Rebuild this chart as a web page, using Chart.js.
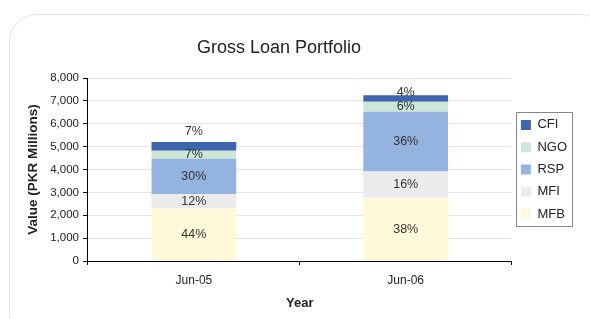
<!DOCTYPE html>
<html>
<head>
<meta charset="utf-8">
<script src="https://cdn.jsdelivr.net/npm/chart.js@4.4.0/dist/chart.umd.min.js"></script>
<style>
  html, body { margin: 0; padding: 0; background: #fff; }
  #wrap { position: relative; width: 590px; height: 319px; overflow: hidden; }
  #frame {
    position: absolute; left: 9px; top: 14px; width: 600px; height: 330px;
    border: 1px solid #e4e4e4; border-radius: 28px; box-sizing: border-box;
  }
  #title {
    position: absolute; left: 197px; top: 37px; line-height: 21px;
    font: 18px 'Liberation Sans', Arial, sans-serif; color: #222; white-space: nowrap;
  }
  canvas { position: absolute; left: 0; top: 0; }
</style>
</head>
<body>
<div id="wrap">
  <div id="frame"></div>
  <canvas id="chart" width="590" height="319"></canvas>
  <div id="title">Gross Loan Portfolio</div>
</div>
<script>
// values (PKR millions)
const years = ["Jun-05", "Jun-06"];
const mfb = [2300, 2760];
const mfi = [620, 1150];
const rsp = [1550, 2610];
const ngo = [350, 440];
const cfi = [380, 290];
const yTicks = [0, 1000, 2000, 3000, 4000, 5000, 6000, 7000, 8000];

const series = [
  { label: "MFB", data: mfb, color: "#fff9d9" },
  { label: "MFI", data: mfi, color: "#ebebed" },
  { label: "RSP", data: rsp, color: "#95b3df" },
  { label: "NGO", data: ngo, color: "#cde7d6" },
  { label: "CFI", data: cfi, color: "#3d65b0" }
];

const FONT = "'Liberation Sans', Arial, sans-serif";

// percent labels inside each segment
const pctLabels = {
  id: "pctLabels",
  afterDatasetsDraw(chart, args, opts) {
    const ctx = chart.ctx;
    const sets = chart.data.datasets;
    ctx.save();
    ctx.font = "12.5px " + FONT;
    ctx.fillStyle = "#333";
    ctx.textAlign = "center";
    ctx.textBaseline = "middle";
    sets.forEach((ds, i) => {
      chart.getDatasetMeta(i).data.forEach((bar, j) => {
        const total = sets.reduce((s, d) => s + d.data[j], 0);
        const pct = Math.round(ds.data[j] / total * 100);
        let y = (bar.y + bar.base) / 2;
        if (i === sets.length - 1) y += opts.topShift[j];
        ctx.fillText(pct + "%", bar.x, y);
      });
    });
    ctx.restore();
  }
};

// box around the legend
const legendBorder = {
  id: "legendBorder",
  afterDraw(chart) {
    const boxes = chart.legend.legendHitBoxes;
    if (!boxes || !boxes.length) return;
    const left = Math.min(...boxes.map(b => b.left)) - 5;
    const right = Math.max(...boxes.map(b => b.left + b.width)) + 5;
    const top = boxes[0].top - 6;
    const bottom = boxes[boxes.length - 1].top + boxes[boxes.length - 1].height + 6;
    const ctx = chart.ctx;
    ctx.save();
    ctx.strokeStyle = "#888";
    ctx.lineWidth = 1;
    ctx.strokeRect(Math.round(left) + 0.5, Math.round(top) + 0.5, Math.round(right - left), Math.round(bottom - top));
    ctx.restore();
  }
};

new Chart(document.getElementById("chart").getContext("2d"), {
  type: "bar",
  data: {
    labels: years,
    datasets: series.map(s => ({
      label: s.label,
      data: s.data,
      backgroundColor: s.color,
      borderWidth: 0,
      barPercentage: 0.4,
      categoryPercentage: 1
    }))
  },
  options: {
    responsive: false,
    animation: false,
    layout: { padding: { top: 78, left: 25, right: 13, bottom: 8 } },
    plugins: {
      title: { display: false },
      legend: {
        position: "right",
        fullSize: false,
        reverse: true,
        labels: {
          boxWidth: 10,
          boxHeight: 10,
          padding: 9.3,
          color: "#222",
          font: { family: FONT, size: 13 }
        }
      },
      tooltip: { enabled: false },
      pctLabels: { topShift: [-15, -6] }
    },
    scales: {
      x: {
        stacked: true,
        grid: { drawOnChartArea: false, drawTicks: true, tickLength: 4, color: "#000", offset: true },
        border: { color: "#000" },
        ticks: { color: "#222", padding: 8, font: { family: FONT, size: 12 } },
        title: {
          display: true, text: "Year", color: "#222",
          font: { family: FONT, size: 13, weight: "bold" },
          padding: { top: 0, bottom: 0 }
        }
      },
      y: {
        stacked: true,
        min: 0,
        max: 8000,
        afterBuildTicks: axis => { axis.ticks = yTicks.map(v => ({ value: v })); },
        grid: { color: "#e4e4e4", tickColor: "#000", tickLength: 5 },
        border: { color: "#000" },
        ticks: {
          color: "#222", padding: 4,
          font: { family: FONT, size: 11.5 },
          callback: v => v.toLocaleString("en-US")
        },
        title: {
          display: true, text: "Value (PKR Millions)", color: "#222",
          font: { family: FONT, size: 13.5, weight: "bold" },
          padding: { top: 0, bottom: 5 }
        }
      }
    }
  },
  plugins: [pctLabels, legendBorder]
});
</script>
</body>
</html>
